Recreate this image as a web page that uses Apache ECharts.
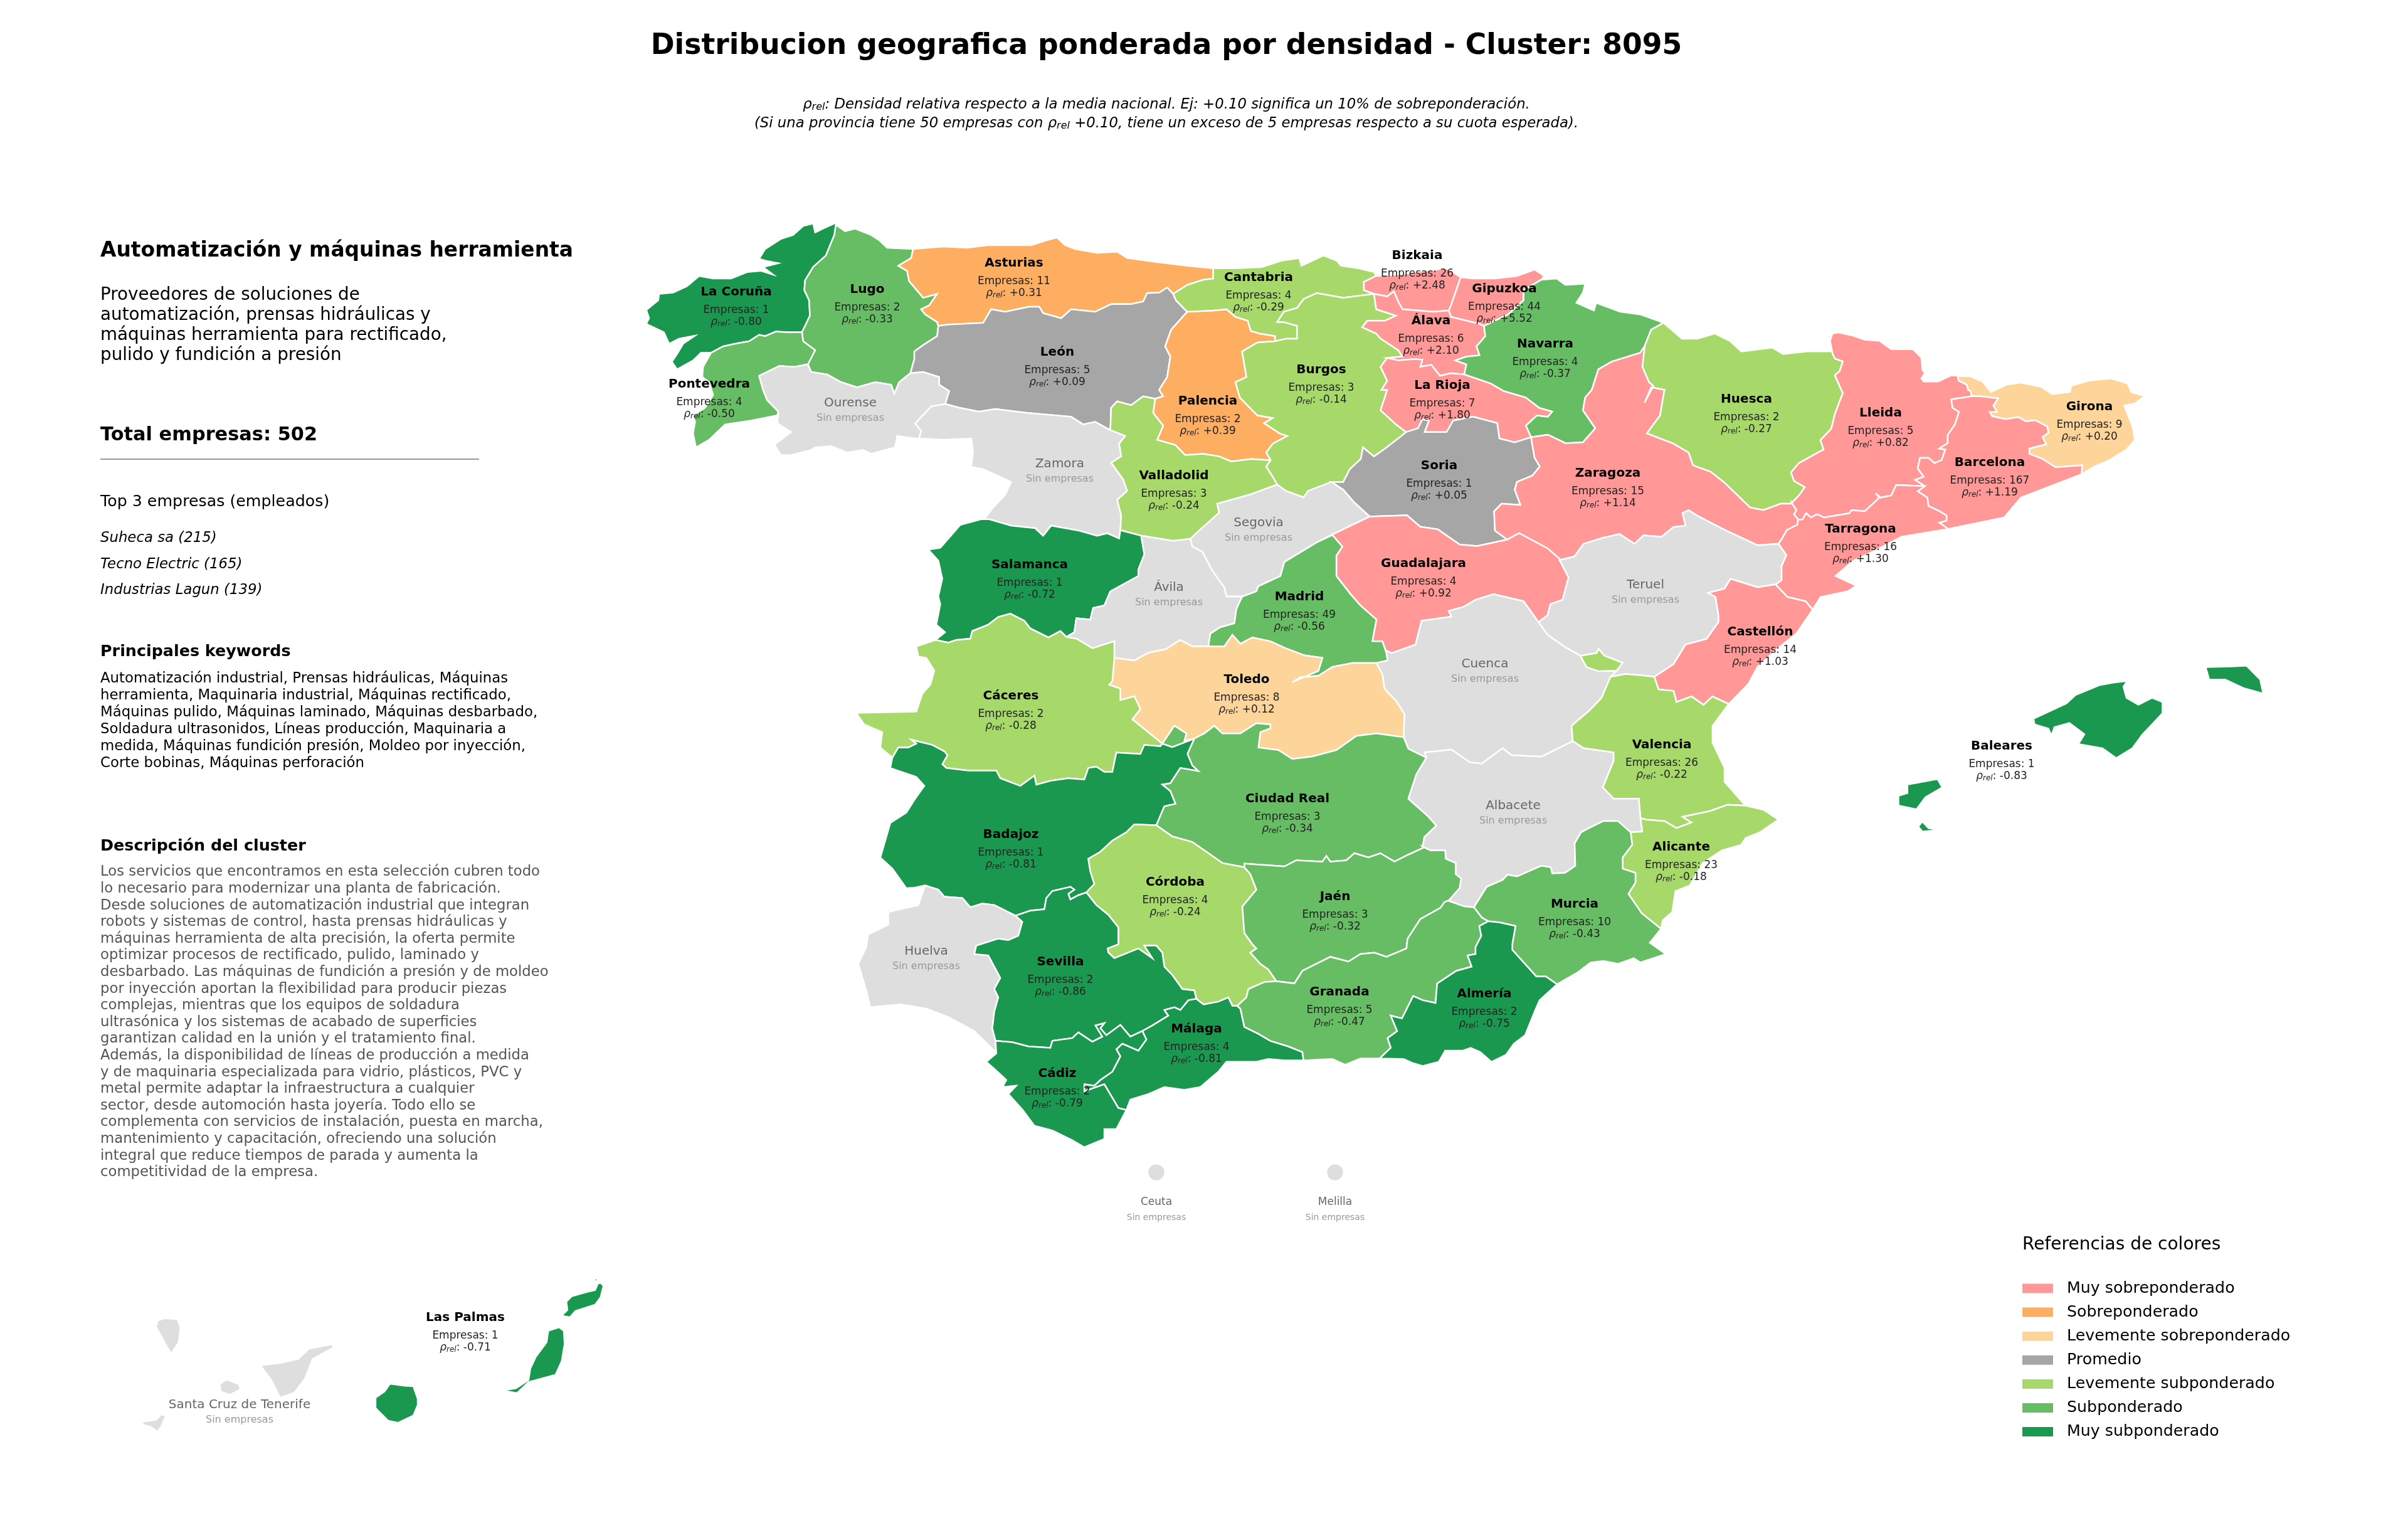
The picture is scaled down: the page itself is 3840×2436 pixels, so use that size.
<!DOCTYPE html>
<html>
<head>
<meta charset="utf-8">
<title>Cluster 8095</title>
<script src="https://cdn.jsdelivr.net/npm/echarts@6/dist/echarts.min.js"></script>
<style>
html,body{margin:0;padding:0;background:#fff}
#main{width:3840px;height:2436px}
</style>
</head>
<body>
<div id="main"></div>
<script>
// datos
var provincias = ['La Coruña','Lugo','Asturias','León','Pontevedra','Ourense','Zamora','Palencia','Valladolid','Salamanca','Cantabria','Burgos','Bizkaia','Gipuzkoa','Álava','Navarra','La Rioja','Soria','Huesca','Zaragoza','Lleida','Girona','Barcelona','Tarragona','Guadalajara','Segovia','Ávila','Madrid','Teruel','Castellón','Cuenca','Toledo','Cáceres','Badajoz','Ciudad Real','Valencia','Albacete','Alicante','Murcia','Córdoba','Jaén','Huelva','Sevilla','Málaga','Granada','Almería','Cádiz','Baleares','Las Palmas','Santa Cruz de Tenerife','Ceuta','Melilla'];
var empresas = [1,2,11,5,4,null,null,2,3,1,4,3,26,44,6,4,7,1,2,15,5,9,167,16,4,null,null,49,null,14,null,8,2,1,3,26,null,23,10,4,3,null,2,4,5,2,2,1,1,null,null,null];
var rhoRel = [-0.80,-0.33,0.31,0.09,-0.50,null,null,0.39,-0.24,-0.72,-0.29,-0.14,2.48,5.52,2.10,-0.37,1.80,0.05,-0.27,1.14,0.82,0.20,1.19,1.30,0.92,null,null,-0.56,null,1.03,null,0.12,-0.28,-0.81,-0.34,-0.22,null,-0.18,-0.43,-0.24,-0.32,null,-0.86,-0.81,-0.47,-0.75,-0.79,-0.83,-0.71,null,null,null];

var categorias = ['Muy sobreponderado','Sobreponderado','Levemente sobreponderado','Promedio','Levemente subponderado','Subponderado','Muy subponderado'];
var coloresCategoria = ['#FF9896','#FDAE61','#FDD49A','#A6A6A6','#A6D96A','#66BD63','#1A9850'];
var cortesMin = [0.5,0.25,0.1,-0.1,-0.3,-0.6,null];
var cortesMax = [null,0.5,0.25,0.1,-0.1,-0.3,-0.6];

var tituloTexto = 'Distribucion geografica ponderada por densidad - Cluster: 8095';
var nombreCluster = 'Automatización y máquinas herramienta';
var resumenCluster = ['Proveedores de soluciones de','automatización, prensas hidráulicas y','máquinas herramienta para rectificado,','pulido y fundición a presión'];
var totalEmpresas = 502;
var topEmpresas = ['Suheca sa (215)','Tecno Electric (165)','Industrias Lagun (139)'];
var keywords = ['Automatización industrial, Prensas hidráulicas, Máquinas','herramienta, Maquinaria industrial, Máquinas rectificado,','Máquinas pulido, Máquinas laminado, Máquinas desbarbado,','Soldadura ultrasonidos, Líneas producción, Maquinaria a','medida, Máquinas fundición presión, Moldeo por inyección,','Corte bobinas, Máquinas perforación'];
var descripcion = ['Los servicios que encontramos en esta selección cubren todo','lo necesario para modernizar una planta de fabricación.','Desde soluciones de automatización industrial que integran','robots y sistemas de control, hasta prensas hidráulicas y','máquinas herramienta de alta precisión, la oferta permite','optimizar procesos de rectificado, pulido, laminado y','desbarbado. Las máquinas de fundición a presión y de moldeo','por inyección aportan la flexibilidad para producir piezas','complejas, mientras que los equipos de soldadura','ultrasónica y los sistemas de acabado de superficies','garantizan calidad en la unión y el tratamiento final.','Además, la disponibilidad de líneas de producción a medida','y de maquinaria especializada para vidrio, plásticos, PVC y','metal permite adaptar la infraestructura a cualquier','sector, desde automoción hasta joyería. Todo ello se','complementa con servicios de instalación, puesta en marcha,','mantenimiento y capacitación, ofreciendo una solución','integral que reduce tiempos de parada y aumenta la','competitividad de la empresa.'];

// siluetas: cada arco es un trozo de frontera compartido, calcado en un recorte (marco)
var MARCOS = {a:[1000,340,.638,.408],b:[1900,340,.7015,.408],c:[1340,800,.638,.408],d:[2200,800,.9566,.4464],e:[1340,1300,.638,.4464],f:[2200,1300,.51,.4464],g:[200,2000,.574,.3333],h:[2840,500,.3827,.3333]};
var ARCOS = {
cor_coast:['a',210,545,185,545,165,575,125,610,112,580,125,550,140,510,170,478,130,490,105,510,92,465,48,432,55,410,48,378,78,340,80,315,115,310,150,285,180,245,215,255,260,255,300,230,335,225,365,240,340,210,378,195,345,185,330,178,345,140,385,100,415,85,440,50,465,40,470,75,490,60,525,35],
cor_lug:['a',522,45,518,85,497,165,465,210,445,262,443,300,455,340,457,400,445,440,437,465],
cor_pon:['a',437,465,400,465,372,462,345,480,330,475,305,500,270,510,240,520,210,545],
lug_coast:['a',522,45,545,70,570,60,610,85,630,105,650,135,715,140],
lug_ast:['a',715,140,710,175,678,205,700,225,705,265,740,330,775,315,755,360,735,375,745,395,775,425,778,440],
lug_leo:['a',778,440,775,480,740,515,718,540,718,570,708,625],
lug_our:['a',708,625,680,660,668,705,660,670,620,660,575,680,535,660,500,630,460,620,452,590],
lug_pon:['a',452,590,470,535,440,500,437,465],
pon_coast:['a',210,545,190,600,188,640,205,660,215,710,195,760,165,790,170,815,165,860,172,915,205,885,245,825,310,810,375,790,378,775],
pon_our:['a',378,775,350,730,340,690,330,635,380,597,420,600,452,590],
our_south:['a',378,775,378,790,375,820,410,855,368,905,385,945,410,945,460,925,470,915,510,910,550,935,590,925,610,940,670,915,675,870,720,880,730,880],
our_zam:['a',730,880,735,850,720,822,760,755,795,745],
our_leo:['a',795,745,805,695,780,670,780,640,740,620,708,625],
ast_coast:['a',715,140,790,130,850,135,900,125,960,125,1010,125,1050,105,1075,95,1095,125,1120,140,1175,155,1225,150,1250,175,1320,190,1400,205,1465,215],
ast_cant:['a',1465,215,1465,255,1440,260,1400,280,1365,315],
ast_leo:['a',778,440,800,435,890,428,910,375,945,385,975,375,1005,365,1030,365,1040,390,1085,410,1110,375,1170,385,1210,355,1260,355,1290,345,1300,312,1330,310,1350,290,1365,315],
leo_cant:['a',1365,315,1372,340,1400,385],
leo_pal:['a',1400,385,1360,455,1345,520,1358,560,1350,640,1330,690,1340,715,1320,725],
leo_val:['a',1320,725,1290,715,1260,750,1225,735,1210,760,1208,840,1205,845],
leo_zam:['a',1205,845,1170,815,1140,825,1110,795,1000,780,920,765,880,775,830,760,795,745],
zam_val:['a',1205,845,1245,870,1230,900,1235,950,1210,975,1240,1040,1250,1085,1225,1120,1235,1180,1233,1238],
zam_port:['a',885,1195,895,1190,915,1150,945,1100,960,1050,890,1000,860,990,865,930,860,880,790,885,730,880],
zam_sal:['c',352,68,372,68,427,93,487,103,507,133,527,93,597,113,642,133,667,123,697,143,700,111],
cant_coast:['b',49,215,100,215,160,210,205,185,245,175,250,205,300,165,330,185,340,205,380,215,415,230,420,245],
cant_biz:['b',420,245,392,268,392,300,415,315],
cant_bur:['b',415,315,345,330,285,312,255,335,240,370,210,385,195,425,210,425,240,440,240,490,215,490,190,500],
pal_cant:['b',-10,385,50,380,80,375,100,405,128,420,135,460,155,470,190,480,190,500],
pal_bur:['b',190,500,150,505,115,540,125,640,100,660,110,720,150,790,185,800,165,820,200,860,218,870,185,900,170,935,180,965],
val_pal:['a',1320,725,1315,780,1340,830,1325,885,1370,905,1395,945,1440,940,1480,950,1510,970,1560,960,1608,965],
val_bur:['b',180,965,170,990,185,1030,195,1060],
val_seg:['a',1625,1060,1555,1100,1475,1135,1480,1170,1430,1240,1408,1272],
val_avi:['a',1408,1272,1365,1280,1285,1260],
val_sal:['a',1285,1260,1233,1238],
sal_port:['c',238,540,262,510,240,480,250,400,245,370,255,300,245,230,220,187,250,180,300,90,352,68],
sal_avi:['c',752,133,760,205,745,265,745,290,675,350,660,405,632,415,625,460,590,455,585,510,565,528],
cac_sal:['c',238,540,270,550,290,540,325,535,330,505,370,480,395,450,425,437,460,465,475,495,520,530,550,505,565,528],
avi_seg:['c',875,145,880,175,905,195,930,270,960,335,965,370],
avi_mad:['c',965,370,1005,370,1000,385,990,420,985,475,950,490,925,515,920,565],
avi_tol:['c',920,565,880,565,850,540,815,575,770,590,735,620,685,610],
avi_cac:['c',685,610,685,545,630,572,590,535,565,528],
bur_seg:['b',195,1060,215,1085,255,1110,265,1085,318,1050],
seg_sor:['b',318,1050,345,1080,370,1130,405,1185],
seg_gua:['b',405,1185,320,1255],
seg_mad:['c',1230,130,1195,155,1110,235,1100,290,1045,330,1040,350,1005,370,965,370],
bur_ala:['b',415,315,420,375,465,400,440,420,400,420,388,445,420,470,430,490,470,535,480,560,445,565],
bur_rio:['b',445,565,430,600,445,655,432,690,445,690,430,770,465,825,488,855],
bur_sor:['b',488,855,470,880,440,920,415,950,390,915,385,960,360,1000,345,1050,318,1050],
trevino:['b',510,520,555,500,590,550,560,560,530,555],
biz_coast:['b',420,245,470,240,530,225,580,215,612,250],
biz_gip:['b',612,250,600,310,590,360,585,380],
biz_ala:['b',585,380,550,385,480,375,470,345,460,305,445,325,415,315],
gip_coast:['b',612,250,640,255,690,255,740,245,780,220,802,245,795,260],
gip_nav:['b',795,260,755,300,755,340,720,395,665,440],
ala_gip:['b',585,380,590,405,650,430,665,440],
ala_nav:['b',665,440,668,480,648,520,655,555,625,560,600,575,625,590,620,630],
rio_ala:['b',445,565,470,575,505,570,525,572,520,600,545,592,565,635,590,625,620,630],
rio_nav:['b',620,630,680,665,710,695,760,720,790,760,820,775,810,795,785,790,760,830,772,875],
sor_rio:['b',488,855,515,840,525,805,540,810,530,855,580,855,595,810,640,795,695,820,700,880,735,895,772,875],
nav_north:['b',795,260,830,255,850,280,895,275,890,310,875,350,915,380,920,350,975,385,1020,395,1073,428],
hue_nav:['b',1030,520,1045,455,1073,428],
zar_nav:['b',772,875,810,865,850,898,890,895,918,840,890,770,895,720,910,690,925,610,955,580,1020,545,1030,520],
hue_top:['b',1073,428,1115,490,1150,490,1190,470,1225,500,1250,540,1320,525,1345,550,1400,540,1458,540],
hue_lle:['h',215,190,225,215,258,228,245,275,225,295,250,360,258,380,225,480,210,550,165,605,178,650,130,680,75,715,42,760,55,800,100,830,75,870,45,905],
zar_hue:['b',1030,520,1025,600,1040,660,1050,675,1030,740,1045,680,1075,690,1065,790,1035,860,1095,900,1130,935,1140,985,1180,1010,1210,1050,1270,1150,1300,1160,1340,1135,1365,1135],
zar_lle:['h',45,905,65,940,55,960,72,985],
zar_tar:['h',72,985,68,1010,25,1035,5,1075,-10,1100],
zar_ter:['d',665,150,630,155,575,100,530,50,515,30,505,40,510,85,490,90,470,125,440,120,425,150,400,115,370,130,340,150,325,195,300,208],
zar_gua:['b',838,1352,810,1310,745,1250,718,1275],
sor_zar:['b',772,875,780,955,792,990,775,1025,740,1050,735,1080,748,1140,705,1135,688,1165,690,1240,718,1275],
sor_gua:['b',718,1275,650,1300,610,1295,560,1235,520,1225,490,1180,405,1185],
gua_ter:['d',300,208,315,270,305,350,285,365,280,405,265,430],
gua_cue:['d',265,430,240,355,190,330,160,350,140,375,115,390,120,410,70,425,60,510,20,540,10,530],
gua_mad:['c',1365,590,1355,545,1330,545,1340,460,1300,405,1275,360,1240,290,1240,210,1255,175,1230,130],
mad_cue:['c',1365,590,1368,620,1340,630],
mad_tol:['c',1340,630,1280,630,1230,645,1195,680,1150,685,1130,705,1195,660,1205,610,1160,600,1110,570,1075,545,1030,530,1000,555,980,520,960,565,920,565],
tol_cue:['c',1340,630,1355,675,1360,730,1390,780,1410,830,1408,920],
tol_enc:['c',805,945,835,875,865,905,860,935,885,925],
cr_tol:['c',885,925,910,905,935,875,955,905,1000,905,1040,865,1075,870,1075,885,1050,900,1045,960,1095,970,1130,1005,1180,995,1240,970,1290,915,1340,905,1408,920],
cac_tol:['c',685,610,680,700,672,715,700,730,700,775,735,760,750,810,730,850,805,945],
bad_cac:['c',130,1000,145,960,170,960,190,945,178,930,230,950,260,975,268,990,255,1025,265,1040,320,1050,390,1050,400,1080,450,1110,485,1070,490,1105,525,1090,570,1080,610,1085,620,1040,640,1035,660,1055,680,1055,690,980,750,985,760,950,800,955,805,945],
cac_port:['c',130,1000,100,960,105,900,60,870,40,825,190,820,205,750,225,715,235,660,215,610,195,605,190,565,238,540],
bad_top:['c',805,945,830,958,885,925],
bad_cr:['c',885,925,868,985,880,1030,895,1052,850,1040,825,1100,805,1105,825,1130,838,1180,810,1190,790,1264],
bad_cor:['e',790,35,735,32,715,60,680,90,650,130,620,155,625,200,635,245,615,275],
bad_sev:['e',615,275,595,285,575,300,570,280,585,265,575,255,530,270,515,295,510,335,475,340,438,358],
bad_hva:['e',438,358,385,320,355,315,325,328,305,295,260,290,245,265,212,250],
bad_port:['c',212,1498,185,1508,165,1510,130,1433,100,1390,115,1310,125,1255,165,1215,185,1165,210,1110,190,1075,125,1040,130,1000],
cr_cue:['c',1408,920,1420,965,1465,1000],
cr_alb:['c',1465,1000,1440,1065,1420,1160,1470,1230,1490,1265,1460,1310,1455,1348],
cr_jae:['e',1458,115,1420,140,1385,165,1350,135,1320,150,1285,135,1265,160,1225,165,1215,145,1205,165,1140,160,1110,182,1010,172,1010,185],
cr_cor:['e',1010,185,955,170,910,125,880,95,830,75,790,35],
cue_ter1:['d',265,430,280,475,310,520,335,550],
enc_cue:['d',335,550,345,590,365,605,395,603],
enc_ter:['d',335,550,362,540,365,525,375,550,405,575,395,603],
cue_ter2:['d',395,603,385,625],
val_cue:['d',322,855,320,800,350,745,370,700,385,625],
cue_alb:['d',75,895,120,885,150,930,170,935,205,880,220,905,270,910,322,855],
val_ter:['d',385,625,410,615,438,620,458,625],
cas_ter:['d',458,625,490,580,510,510,545,490,565,430,565,405,560,340,548,325,575,310,585,275,630,305,660,295],
tar_ter:['d',660,295,670,280,670,230,678,190,665,150],
cas_tar:['d',660,295,680,340,710,355,722,385],
cas_coast:['d',722,385,695,470,660,530,630,590,615,650,582,722],
val_cas:['d',458,625,465,670,490,675,495,715,520,695,540,725,555,695,582,722],
tar_coast:['d',722,385,735,340,780,320,795,300,760,265,790,210,830,170,870,125,945,98],
lle_north:['h',215,190,205,130,215,95,240,90,300,105,350,125,410,130,460,170,550,170,585,210,590,270,600,285,585,310,595,325,655,325,710,295,737,298],
lle_gir:['h',737,298,740,320,775,340,780,365,790,370,795,395],
lle_bar:['h',795,395,710,410,715,450,742,470,725,530,695,580,695,620,660,645,685,650,670,700,640,715,615,690,580,690,570,740,595,780,560,795,600,825],
lle_tar:['h',600,825,480,820,460,870,415,880,395,860,410,880,350,945,295,940,285,955,180,975,150,960,125,975,105,955,90,985,72,985],
tar_bar:['h',600,825,570,850,610,880,615,920,660,945,690,965,690,990,660,1000,697,1030],
bar_coast:['h',697,1030,930,975,1000,880,1253,768],
bar_gir:['h',1253,768,1255,725,1145,735,1090,695,1035,670,1035,645,1105,625,1090,590,1115,570,1110,540,1060,510,1020,515,990,495,935,505,880,490,870,470,900,470,885,440,905,405,830,395,795,395],
gir_coast:['h',737,298,790,300,840,325,875,375,940,340,1000,330,1085,350,1130,385,1205,375,1210,345,1285,320,1375,310,1445,335,1460,375,1515,395,1475,430,1430,440,1465,540,1475,605,1440,650,1370,700,1300,735,1253,768],
val_coast:['d',582,722,555,800,555,860,575,950,575,1000,610,1085],
ali_val:['d',610,1085,580,1082,550,1105,505,1125,520,1145,495,1165,475,1140,445,1135,435,1130],
alb_val:['d',322,855,340,880,390,895,390,925,372,1020,390,1060,432,1060,435,1130],
ali_coast1:['d',610,1085,640,1100,665,1135],
ali_coast2:['f',1240,20,1190,60,1145,80,1130,105,1070,125,1010,170,970,250,925,270,915,345,885,375,880,405],
ali_alb:['d',418,1182,438,1178,435,1130],
mur_ali:['f',785,60,790,105,760,150,760,190,800,205,800,240,778,280,820,350,880,405],
mur_alb:['f',295,328,335,255,385,230,400,212,430,218,505,180,535,185,540,207,580,205,612,180,610,100,630,60,655,45,700,20,745,20,785,60],
mur_coast:['f',880,405,845,455,895,495,815,525,795,510,745,530,700,520,660,525,620,560,555,603],
alm_mur:['f',340,378,375,382,425,395,415,460,415,480,490,575,520,575,555,603],
alm_coast:['f',555,603,500,660,485,700,455,785,420,815,395,855,350,880,315,845,285,830,260,840,205,840,185,880,135,895,105,885,75,870,0,868],
gran_alm:['f',340,378,312,395,318,430,300,470,300,495,275,500,288,540,240,555,180,600,175,670,135,660,105,645,70,725,35,715,55,770,25,795,35,830,0,868],
gran_alb:['f',215,305,265,325,295,328],
gran_mur:['f',295,328,320,365,340,378],
jae_alb:['f',215,305,250,260,255,225,238,210,238,170,207,155,205,125,160,125,135,112],
jae_gran:['e',1090,592,1135,600,1155,555,1225,505,1270,522,1300,495,1335,490,1365,505,1415,475,1418,440,1450,370,1500,330,1510,310,1525,300],
gran_coast:['e',1345,868,1300,868,1262,890,1230,870,1158,875],
gran_mal:['e',1158,875,1155,845,1120,825,1075,805,1045,780,1010,755,1000,690,992,680],
gran_cor:['e',992,680,1015,650,1020,620,1060,595,1090,592],
jae_cor:['e',1010,185,1025,210,1040,265,1005,325,1010,420,1030,460,1040,475,1025,490,1050,530,1070,550,1090,592],
cor_sev:['e',615,275,640,320,670,355,695,400,695,460,668,475,670,490,685,510,745,475,780,510,760,465,790,465,805,490,810,540,830,570,855,620,885,625,890,655],
cor_mal:['e',890,655,908,675,945,665,970,650,980,680,992,680],
sev_mal:['e',890,655,870,660,850,695,835,685,810,695,820,715,780,750,755,770],
sev_cad:['e',755,770,725,790,700,748,665,785,650,760,660,742,638,750,655,790,630,808,595,775,580,795,530,805,525,830,470,825,430,810,388,805],
mal_cad:['e',755,770,765,800,745,840,705,815,690,835,700,860,680,915,650,945,635,965,610,960,610,985,660,960,695,1045,715,1052],
mal_coast:['e',1158,875,1110,875,1070,870,1040,880,965,880,945,915,900,970,860,980,810,970,770,995,725,1015,715,1052],
cad_coast:['e',715,1052,690,1120,660,1120,660,1155,610,1185,580,1160,530,1125,485,1108,455,1050,420,995,440,965,405,970,415,945,385,905,365,880,390,850,388,805],
hva_sev:['e',438,358,455,380,445,430,420,445,395,440,340,465,335,495,370,500,385,540,400,580,385,620,395,650,385,700,380,760,388,805],
hva_coast:['e',388,805,388,845,335,770,270,720,215,690,150,675,75,685,65,625,45,530,65,470,70,425,120,390,120,345,195,320,212,250],
mallorca:['d',1250,628,1245,640,1225,645,1200,655,1160,690,1145,720,1090,775,1092,795,1115,810,1120,835,1125,805,1150,790,1175,830,1165,865,1205,880,1228,915,1255,880,1272,830,1290,790,1305,755,1305,715,1288,700,1265,725,1245,700,1240,660],
menorca:['d',1377,590,1420,588,1445,585,1468,635,1473,685,1440,665,1410,635,1383,635],
ibiza:['d',930,990,938,1020,910,1055,895,1098,865,1085,865,1050,880,1040,880,1010],
formentera:['d',905,1142,915,1165,932,1172,905,1178,898,1160],
grancanaria:['g',735,618,775,628,800,630,812,690,812,720,800,770,757,805,730,795,695,735,695,685,720,655],
fuerteventura:['g',1205,348,1218,365,1220,430,1212,510,1195,575,1120,610,1088,663,1047,650,1085,640,1120,600,1125,545,1140,490,1170,420,1175,365],
lanzarote:['g',1320,135,1328,150,1320,205,1305,240,1250,270,1235,300,1212,293,1228,265,1225,225,1240,200,1285,178,1305,170,1312,140],
graciosa:['g',1305,108,1313,125,1303,128],
tenerife:['g',575,430,578,445,520,500,500,590,470,660,430,685,405,600,375,530,430,518,480,500,510,450],
gomera:['g',280,598,315,620,320,645,290,672,265,655,262,620],
lapalma:['g',110,305,145,310,153,350,148,420,127,475,112,430,85,345,90,315],
hierro:['g',100,765,113,770,100,820,90,848,70,825,45,812,50,800,85,790]
};
// poligonos por provincia, el - invierte el arco
var ANILLOS = {
'La Coruña':[['cor_coast','cor_lug','cor_pon']],
'Lugo':[['lug_coast','lug_ast','lug_leo','lug_our','lug_pon','-cor_lug']],
'Pontevedra':[['pon_coast','pon_our','lug_pon','cor_pon']],
'Ourense':[['our_south','our_zam','our_leo','lug_our','-pon_our']],
'Asturias':[['ast_coast','ast_cant','-ast_leo','-lug_ast']],
'León':[['ast_leo','leo_cant','leo_pal','leo_val','leo_zam','our_leo','-lug_leo']],
'Zamora':[['-leo_zam','zam_val','-zam_sal','zam_port','our_zam']],
'Cantabria':[['cant_coast','cant_biz','cant_bur','-pal_cant','-leo_cant','-ast_cant']],
'Palencia':[['pal_cant','pal_bur','-val_pal','-leo_pal']],
'Valladolid':[['val_pal','val_bur','val_seg','val_avi','val_sal','-zam_val','-leo_val']],
'Salamanca':[['sal_port','zam_sal','-val_sal','sal_avi','-cac_sal']],
'Ávila':[['-val_avi','avi_seg','avi_mad','avi_tol','avi_cac','-sal_avi']],
'Segovia':[['bur_seg','seg_sor','seg_gua','seg_mad','-avi_seg','-val_seg']],
'Burgos':[['-cant_bur','bur_ala','bur_rio','bur_sor','-bur_seg','-val_bur','-pal_bur'],['trevino']],
'Bizkaia':[['biz_coast','biz_gip','biz_ala','-cant_biz']],
'Gipuzkoa':[['gip_coast','gip_nav','-ala_gip','-biz_gip']],
'Álava':[['-biz_ala','ala_gip','ala_nav','-rio_ala','-bur_ala']],
'La Rioja':[['rio_ala','rio_nav','-sor_rio','-bur_rio']],
'Navarra':[['nav_north','-hue_nav','-zar_nav','-rio_nav','-ala_nav','-gip_nav']],
'Huesca':[['hue_top','hue_lle','-zar_hue','hue_nav']],
'Zaragoza':[['zar_nav','zar_hue','zar_lle','zar_tar','zar_ter','zar_gua','-sor_zar']],
'Soria':[['-bur_sor','sor_rio','sor_zar','sor_gua','-seg_sor']],
'Guadalajara':[['-seg_gua','-sor_gua','-zar_gua','gua_ter','gua_cue','gua_mad']],
'Madrid':[['-gua_mad','mad_cue','mad_tol','-avi_mad','-seg_mad']],
'Toledo':[['-avi_tol','-mad_tol','tol_cue','-cr_tol','-tol_enc','-cac_tol']],
'Cáceres':[['cac_sal','-avi_cac','cac_tol','-bad_cac','cac_port']],
'Badajoz':[['bad_cac','bad_top','bad_cr','bad_cor','bad_sev','bad_hva','bad_port']],
'Ciudad Real':[['cr_tol','cr_cue','cr_alb','cr_jae','cr_cor','-bad_cr'],['tol_enc','-bad_top']],
'Cuenca':[['-mad_cue','-gua_cue','cue_ter1','enc_cue','cue_ter2','-val_cue','-cue_alb','-cr_cue','-tol_cue']],
'Teruel':[['-zar_ter','-tar_ter','-cas_ter','-val_ter','-cue_ter2','-enc_ter','-cue_ter1','-gua_ter']],
'Castellón':[['cas_ter','cas_tar','cas_coast','-val_cas']],
'Tarragona':[['tar_ter','-zar_tar','-lle_tar','tar_bar','-tar_coast','-cas_tar']],
'Lleida':[['lle_north','lle_gir','lle_bar','lle_tar','-zar_lle','-hue_lle']],
'Barcelona':[['-lle_bar','-bar_gir','-bar_coast','-tar_bar']],
'Girona':[['gir_coast','bar_gir','-lle_gir']],
'Valencia':[['val_cue','val_ter','val_cas','val_coast','ali_val','-alb_val'],['enc_ter','-enc_cue']],
'Alicante':[['-ali_val','ali_coast1','ali_coast2','-mur_ali','ali_alb']],
'Albacete':[['cue_alb','alb_val','-ali_alb','-mur_alb','-gran_alb','jae_alb','-cr_alb']],
'Murcia':[['mur_alb','mur_ali','mur_coast','-alm_mur','-gran_mur']],
'Almería':[['alm_mur','alm_coast','-gran_alm']],
'Granada':[['jae_gran','gran_alb','gran_mur','gran_alm','gran_coast','gran_mal','gran_cor']],
'Jaén':[['-cr_jae','-jae_alb','-jae_gran','-jae_cor']],
'Córdoba':[['-bad_cor','-cr_cor','jae_cor','-gran_cor','-cor_mal','-cor_sev']],
'Sevilla':[['-bad_sev','cor_sev','sev_mal','sev_cad','-hva_sev']],
'Málaga':[['cor_mal','-gran_mal','mal_coast','-mal_cad','-sev_mal']],
'Cádiz':[['-sev_cad','mal_cad','cad_coast']],
'Huelva':[['-bad_hva','hva_sev','hva_coast']],
'Baleares':[['mallorca'],['menorca'],['ibiza'],['formentera']],
'Las Palmas':[['grancanaria'],['fuerteventura'],['lanzarote'],['graciosa']],
'Santa Cruz de Tenerife':[['tenerife'],['gomera'],['lapalma'],['hierro']]
};
// centro de cada etiqueta en px de la imagen
var POS_ETIQUETA = {'La Coruña':[1174,488],'Lugo':[1383,484],'Asturias':[1617,442],'León':[1686,584],'Pontevedra':[1131,635],'Ourense':[1356,655],'Zamora':[1690,752],'Palencia':[1926,662],'Valladolid':[1872,781],'Salamanca':[1642,923],'Cantabria':[2007,465],'Burgos':[2107,612],'Bizkaia':[2260,430],'Gipuzkoa':[2399,483],'Álava':[2282,534],'Navarra':[2464,571],'La Rioja':[2300,637],'Soria':[2295,765],'Huesca':[2785,659],'Zaragoza':[2564,777],'Lleida':[2999,681],'Girona':[3332,671],'Barcelona':[3173,760],'Tarragona':[2967,866],'Guadalajara':[2270,921],'Segovia':[2007,846],'Ávila':[1864,949],'Madrid':[2072,974],'Teruel':[2624,945],'Castellón':[2807,1030],'Cuenca':[2368,1071],'Toledo':[1988,1106],'Cáceres':[1612,1132],'Badajoz':[1612,1353],'Ciudad Real':[2053,1296],'Valencia':[2650,1210],'Albacete':[2413,1297],'Alicante':[2681,1373],'Murcia':[2511,1464],'Córdoba':[1874,1429],'Jaén':[2129,1452],'Huelva':[1477,1529],'Sevilla':[1691,1556],'Málaga':[1908,1663],'Granada':[2136,1604],'Almería':[2367,1607],'Cádiz':[1686,1734],'Baleares':[3192,1212],'Las Palmas':[742,2123],'Santa Cruz de Tenerife':[382,2252],'Ceuta':[1844,1929],'Melilla':[2129,1929]};
var CIRCULOS = {'Ceuta':[1844,1869],'Melilla':[2129,1869]};

function ptsArco(nombre){
	var inv = nombre.charAt(0) === '-';
	var a = ARCOS[inv ? nombre.slice(1) : nombre];
	var m = MARCOS[a[0]];
	var pts = [];
	for(var i=1;i<a.length;i+=2){
		pts.push([m[0]+a[i]*m[2], 2436-(m[1]+a[i+1]*m[3])]);
	}
	return inv ? pts.reverse() : pts;
}
function circulo(c,r){
	var pts = [];
	for(var i=0;i<24;i++){
		var t = i/24*Math.PI*2;
		pts.push([c[0]+Math.cos(t)*r, 2436-c[1]+Math.sin(t)*r]);
	}
	return pts;
}
function crearGeo(){
	var features = [];
	for(var i=0;i<provincias.length;i++){
		var nom = provincias[i];
		var polys = [];
		if(CIRCULOS[nom]){
			polys.push([circulo(CIRCULOS[nom],14)]);
		}else{
			ANILLOS[nom].forEach(function(anillo){
				var ring = [];
				anillo.forEach(function(n){ ring = ring.concat(ptsArco(n)); });
				polys.push([ring]);
			});
		}
		features.push({
			type:'Feature',
			properties:{name:nom,cp:[POS_ETIQUETA[nom][0],2436-POS_ETIQUETA[nom][1]]},
			geometry:{type:'MultiPolygon',coordinates:polys}
		});
	}
	return {type:'FeatureCollection',features:features};
}
function signo(v){
	return (v>0?'+':'')+v.toFixed(2);
}
function etiqueta(p){
	var i = provincias.indexOf(p.name);
	if(p.name==='Ceuta' || p.name==='Melilla'){
		return '{pNombre|'+p.name+'}\n{pSin|Sin empresas}';
	}
	if(empresas[i]===null){
		return '{sinNombre|'+p.name+'}\n{sin|Sin empresas}';
	}
	return '{nombre|'+p.name+'}\n{emp|Empresas: '+empresas[i]+'}\n{rho|ρ}{sub|rel}{emp|: '+signo(rhoRel[i])+'}';
}

var FUENTE = '"DejaVu Sans"';
function linea(x,y,txt,size,extra){
	var st = {x:x,y:y+2.5,text:txt,fontFamily:FUENTE,fontSize:size,fill:'#000',textVerticalAlign:'middle',verticalAlign:'middle'};
	for(var k in extra){ st[k]=extra[k]; }
	return {type:'text',silent:true,style:st};
}
function panel(){
	var g = [];
	g.push(linea(160,398,nombreCluster,32.9,{fontWeight:'bold'}));
	resumenCluster.forEach(function(t,i){ g.push(linea(160,468+i*32,t,27.8)); });
	g.push(linea(160,692,'Total empresas: '+totalEmpresas,30.4,{fontWeight:'bold'}));
	g.push({type:'line',silent:true,shape:{x1:160,y1:732,x2:764,y2:732},style:{stroke:'#999',lineWidth:2}});
	g.push(linea(160,798,'Top 3 empresas (empleados)',25.3));
	topEmpresas.forEach(function(t,i){ g.push(linea(160,856+i*41.5,t,22.8,{fontStyle:'italic'})); });
	g.push(linea(160,1037,'Principales keywords',25.4,{fontWeight:'bold'}));
	keywords.forEach(function(t,i){ g.push(linea(160,1080+i*27,t,22.84)); });
	g.push(linea(160,1347,'Descripción del cluster',25.4,{fontWeight:'bold'}));
	descripcion.forEach(function(t,i){ g.push(linea(160,1388+i*26.6,t,22.77,{fill:'#555'})); });
	// nota bajo el titulo
	var riq = {i:{fontFamily:FUENTE,fontSize:22.8,fontStyle:'italic',fill:'#000'},s:{fontFamily:FUENTE,fontSize:16,fontStyle:'italic',fill:'#000',verticalAlign:'bottom',padding:[8,0,0,0]}};
	g.push({type:'text',silent:true,style:{x:1860,y:167,align:'center',verticalAlign:'middle',rich:riq,text:'{i|ρ}{s|rel}{i|: Densidad relativa respecto a la media nacional. Ej: +0.10 significa un 10% de sobreponderación.}'}});
	g.push({type:'text',silent:true,style:{x:1860,y:197,align:'center',verticalAlign:'middle',rich:riq,text:'{i|(Si una provincia tiene 50 empresas con ρ}{s|rel}{i| +0.10, tiene un exceso de 5 empresas respecto a su cuota esperada).}'}});
	g.push(linea(3225,1982,'Referencias de colores',28));
	return g;
}

var piezas = categorias.map(function(c,i){
	var p = {label:c,color:coloresCategoria[i]};
	if(cortesMin[i]!==null){ p.min = cortesMin[i]; }
	if(cortesMax[i]!==null){ p.max = cortesMax[i]; }
	return p;
});

echarts.registerMap('espana',crearGeo());
var myChart = echarts.init(document.getElementById('main'));
myChart.setOption({
	animation:false,
	backgroundColor:'#fff',
	textStyle:{fontFamily:FUENTE},
	title:{text:tituloTexto,left:1855,top:46,textAlign:'center',textStyle:{fontFamily:FUENTE,fontSize:45.7,fontWeight:'bold',color:'#000'}},
	visualMap:{
		type:'piecewise',
		seriesIndex:0,
		left:3210,
		top:2026.5,
		orient:'vertical',
		align:'left',
		pieces:piezas,
		itemWidth:49,
		itemHeight:15,
		itemGap:13.1,
		textGap:22,
		itemSymbol:'rect',
		selectedMode:false,
		hoverLink:false,
		textStyle:{fontFamily:FUENTE,fontSize:25.3,color:'#000'}
	},
	series:[{
		type:'map',
		map:'espana',
		left:0,
		top:0,
		width:3840,
		height:2436,
		aspectScale:1,
		boundingCoords:[[0,2436],[3840,0]],
		roam:false,
		silent:true,
		selectedMode:false,
		itemStyle:{areaColor:'#DEDEDE',borderColor:'#fff',borderWidth:2.5},
		emphasis:{disabled:true},
		label:{
			show:true,
			offset:[0,-3],
			formatter:etiqueta,
			rich:{
				nombre:{fontFamily:FUENTE,fontSize:20,fontWeight:'bold',color:'#000',lineHeight:38,align:'center'},
				emp:{fontFamily:FUENTE,fontSize:17,color:'#222',lineHeight:19},
				rho:{fontFamily:FUENTE,fontSize:17,fontStyle:'italic',color:'#222',lineHeight:19},
				sub:{fontFamily:FUENTE,fontSize:12,fontStyle:'italic',color:'#222',lineHeight:19,verticalAlign:'bottom'},
				sinNombre:{fontFamily:FUENTE,fontSize:20,color:'#666',lineHeight:30},
				sin:{fontFamily:FUENTE,fontSize:16,color:'#999',lineHeight:18},
				pNombre:{fontFamily:FUENTE,fontSize:17,color:'#666',lineHeight:30},
				pSin:{fontFamily:FUENTE,fontSize:14,color:'#999',lineHeight:18}
			}
		},
		data:provincias.map(function(n,i){ return {name:n,value:rhoRel[i]===null?NaN:rhoRel[i]}; })
	}],
	graphic:{elements:panel()}
});
</script>
</body>
</html>
